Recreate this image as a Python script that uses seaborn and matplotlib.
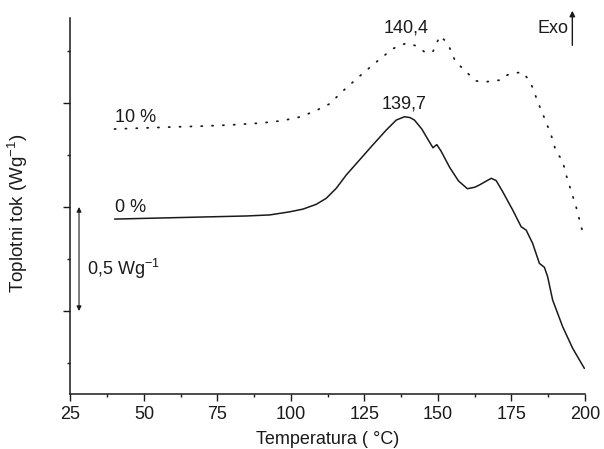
#!/usr/bin/env python3
# coding: utf-8
import pandas as pd
import seaborn as sns
import matplotlib.pyplot as plt
from matplotlib.ticker import MultipleLocator, NullFormatter

# ------------------------------------------------
# Data
# ------------------------------------------------
temp_0 = [40, 55, 70, 85, 92.8, 99.6, 104.1, 108.6, 112, 115.4, 118.8, 123.3,
          127.8, 132.4, 135.8, 138.6, 140.5, 142, 144.5, 147, 148.3, 149.6,
          151, 154, 157, 160, 162.5, 164.1, 168.1, 169.8, 172, 175.4, 178.3,
          180, 182.2, 184.5, 186.2, 187.3, 189, 192.4, 195.8, 199.8]
flow_0 = [0.442, 0.447, 0.452, 0.457, 0.462, 0.477, 0.490, 0.513, 0.542, 0.590,
          0.654, 0.726, 0.798, 0.870, 0.918, 0.934, 0.930, 0.918, 0.875, 0.815,
          0.785, 0.800, 0.770, 0.690, 0.625, 0.588, 0.595, 0.606, 0.638, 0.627,
          0.574, 0.486, 0.405, 0.389, 0.325, 0.229, 0.210, 0.165, 0.053,
          -0.075, -0.179, -0.276]

temp_10 = [40, 50, 60, 70, 80, 90, 97, 103, 108, 113, 118, 123, 129, 134.5,
           137.5, 139.7, 142.7, 145.5, 148.2, 149.5, 150.5, 152.2, 154, 156,
           158.3, 160.7, 163.1, 165.8, 168.5, 171.6, 173.6, 176.3, 178.7, 180.7,
           182.1, 184.1, 186.2, 188.5, 190.2, 192.3, 193.6, 195.3, 197, 199.1]
flow_10 = [0.875, 0.880, 0.885, 0.889, 0.895, 0.904, 0.915, 0.933, 0.960, 0.995,
           1.062, 1.125, 1.197, 1.260, 1.280, 1.288, 1.274, 1.245, 1.245, 1.284,
           1.322, 1.303, 1.264, 1.197, 1.168, 1.135, 1.106, 1.101, 1.106, 1.111,
           1.135, 1.144, 1.149, 1.115, 1.077, 1.000, 0.928, 0.846, 0.764, 0.726,
           0.654, 0.577, 0.500, 0.385]

x_ticks = [25, 50, 75, 100, 125, 150, 175, 200]

# ------------------------------------------------
# Style
# ------------------------------------------------
sns.set_style("ticks")
plt.rcParams['font.family'] = ['Liberation Sans', 'DejaVu Sans']
plt.rcParams['mathtext.default'] = 'regular'
ink = '#1a1a1a'

fig, ax = plt.subplots(figsize=(6.04, 4.49), dpi=100)
fig.subplots_adjust(left=0.1167, right=0.9685, bottom=0.1225, top=0.96)

data_0 = pd.DataFrame({'T': temp_0, 'q': flow_0})
data_10 = pd.DataFrame({'T': temp_10, 'q': flow_10})

sns.lineplot(x='T', y='q', data=data_0, ax=ax, color=ink, lw=1.1, sort=False)
sns.lineplot(x='T', y='q', data=data_10, ax=ax, color=ink, lw=1.3, sort=False,
             linestyle=(0, (0.6, 5.4)), dash_capstyle='round')

ax.set_xlim(25, 200)
ax.set_ylim(-0.399, 1.409)
ax.set_xticks(x_ticks)
ax.xaxis.set_minor_locator(MultipleLocator(12.5))
ax.yaxis.set_major_locator(MultipleLocator(0.5))
ax.yaxis.set_minor_locator(MultipleLocator(0.25))
ax.yaxis.set_major_formatter(NullFormatter())
ax.tick_params(which='major', direction='out', length=5, width=1, colors=ink,
               labelsize=13, pad=4)
ax.tick_params(which='minor', direction='out', length=2.5, width=1, colors=ink)
sns.despine(ax=ax)
for s in ('left', 'bottom'):
    ax.spines[s].set_color(ink)
    ax.spines[s].set_linewidth(1.1)

ax.set_xlabel('Temperatura ( °C)', fontsize=13, color=ink)
ax.xaxis.label.set_verticalalignment('bottom')
ax.xaxis.set_label_coords(0.5, -0.143)
ax.set_ylabel('Toplotni tok (Wg$^{-1}$)', fontsize=13.5, color=ink)
ax.yaxis.set_label_coords(-0.078, 0.48)

# annotations
ax.text(40, 0.93, '10 %', fontsize=13, color=ink, va='center')
ax.text(40, 0.50, '0 %', fontsize=13, color=ink, va='center')
ax.text(139.0, 1.361, '140,4', fontsize=13, color=ink, ha='center', va='center')
ax.text(138.6, 0.995, '139,7', fontsize=13, color=ink, ha='center', va='center')
ax.text(194.3, 1.356, 'Exo', fontsize=13, color=ink, ha='right', va='center')
ax.annotate('', xy=(195.7, 1.457), xytext=(195.7, 1.264), annotation_clip=False,
            arrowprops=dict(arrowstyle='-|>', color=ink, lw=1, mutation_scale=8))

ax.annotate('', xy=(27.9, 0.0), xytext=(27.9, 0.5),
            arrowprops=dict(arrowstyle='<|-|>', color=ink, lw=0.8,
                            mutation_scale=7, shrinkA=0, shrinkB=0))
ax.text(30.5, 0.2, '0,5 Wg$^{-1}$', fontsize=13, color=ink, va='center')

plt.savefig('out.png', dpi=100)
plt.close(fig)
